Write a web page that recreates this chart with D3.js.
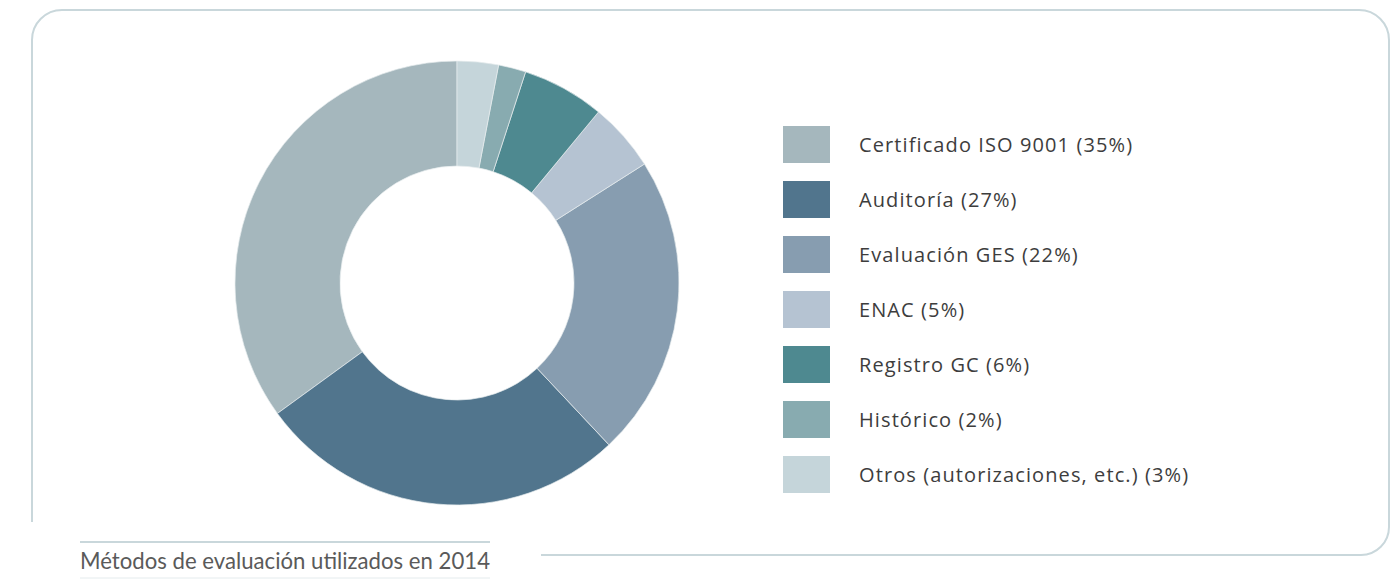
<!DOCTYPE html>
<html>
<head>
<meta charset="utf-8">
<script src="https://cdn.jsdelivr.net/npm/d3@7"></script>
<style>
  body { margin: 0; background: #fff; }
  svg { display: block; }
</style>
</head>
<body>
<div class="chart"></div>
<script>
// data
const metodos = ["Certificado ISO 9001", "Auditoría", "Evaluación GES", "ENAC", "Registro GC", "Histórico", "Otros (autorizaciones, etc.)"];
const porcentajes = [35, 27, 22, 5, 6, 2, 3];
const colores = ["#a5b7bd", "#51758d", "#879db0", "#b5c3d2", "#4e8990", "#88abb0", "#c5d5da"];
const titulo = "Métodos de evaluación utilizados en 2014";

const width = 1392, height = 579;

const svg = d3.select(".chart")
    .append("svg")
    .attr("width", width)
    .attr("height", height);

// frame: open at bottom-left where the caption sits
const frame = d3.path();
frame.moveTo(32, 522);
frame.lineTo(32, 40);
frame.arcTo(32, 10, 62, 10, 30);
frame.lineTo(1359, 10);
frame.arcTo(1389, 10, 1389, 40, 30);
frame.lineTo(1389, 527);
frame.arcTo(1389, 555, 1361, 555, 28);
frame.lineTo(541, 555);

svg.append("path")
    .attr("d", frame.toString())
    .attr("fill", "none")
    .attr("stroke", "#c9d7db")
    .attr("stroke-width", 2);

// donut
const color = d3.scaleOrdinal().domain(metodos).range(colores);

const pie = d3.pie()
    .sort(null)
    .value(d => d.v)
    .startAngle(0)
    .endAngle(-2 * Math.PI);

const arc = d3.arc()
    .innerRadius(117)
    .outerRadius(222);

const datos = metodos.map((m, i) => ({name: m, v: porcentajes[i]}));

const g = svg.append("g")
    .attr("transform", "translate(457,283)");

g.selectAll("path")
    .data(pie(datos))
    .enter().append("path")
    .attr("d", arc)
    .attr("fill", d => color(d.data.name))
    .attr("stroke", "#e6ecee")
    .attr("stroke-width", 0.7);

// legend
const y = d3.scaleBand()
    .domain(metodos)
    .range([126, 126 + 55 * metodos.length])
    .paddingInner(0);

const leg = svg.append("g").selectAll("g")
    .data(datos)
    .enter().append("g")
    .attr("transform", d => `translate(783,${y(d.name)})`);

leg.append("rect")
    .attr("width", 47)
    .attr("height", 37)
    .attr("fill", d => color(d.name));

leg.append("text")
    .attr("x", 76)
    .attr("y", 26)
    .attr("font-family", "'Open Sans', sans-serif")
    .attr("font-size", 20)
    .attr("letter-spacing", 1.1)
    .attr("fill", "#3d3d3d")
    .text(d => `${d.name} (${d.v}%)`);

// caption
svg.append("line")
    .attr("x1", 80).attr("x2", 490)
    .attr("y1", 542).attr("y2", 542)
    .attr("stroke", "#c9d7db")
    .attr("stroke-width", 2);

svg.append("line")
    .attr("x1", 80).attr("x2", 490)
    .attr("y1", 578).attr("y2", 578)
    .attr("stroke", "#e4ebed")
    .attr("stroke-width", 1);

svg.append("text")
    .attr("x", 80)
    .attr("y", 569)
    .attr("font-family", "Lato, sans-serif")
    .attr("font-size", 23)
    .attr("fill", "#5a5a5a")
    .attr("textLength", 410)
    .attr("lengthAdjust", "spacingAndGlyphs")
    .text(titulo);
</script>
</body>
</html>
